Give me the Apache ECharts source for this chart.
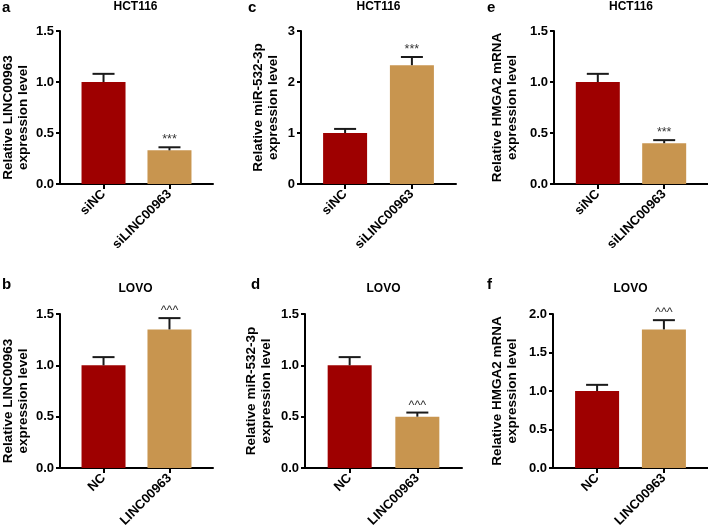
<!DOCTYPE html>
<html><head><meta charset="utf-8">
<script src="https://cdn.jsdelivr.net/npm/echarts@6/dist/echarts.min.js"></script>
<style>html,body{margin:0;padding:0;background:#fff}#c{width:708px;height:532px}</style>
</head><body><div id="c"></div>
<script>
// ---- data ----
const panelLetters = ['a', 'c', 'e', 'b', 'd', 'f'];
const panelTitles = ['HCT116', 'HCT116', 'HCT116', 'LOVO', 'LOVO', 'LOVO'];
const catsHCT116 = ['siNC', 'siLINC00963'];
const catsLOVO = ['NC', 'LINC00963'];
const yAxisNames = [
  'Relative LINC00963\nexpression level',
  'Relative miR-532-3p\nexpression level',
  'Relative HMGA2 mRNA\nexpression level',
  'Relative LINC00963\nexpression level',
  'Relative miR-532-3p\nexpression level',
  'Relative HMGA2 mRNA\nexpression level'
];
const yMaxes = [1.5, 3, 1.5, 1.5, 1.5, 2.0];
const yIntervals = [0.5, 1, 0.5, 0.5, 0.5, 0.5];
const means_a = [1.00, 0.33], errs_a = [0.08, 0.03];
const means_c = [1.00, 2.33], errs_c = [0.08, 0.16];
const means_e = [1.00, 0.40], errs_e = [0.08, 0.03];
const means_b = [1.00, 1.35], errs_b = [0.08, 0.11];
const means_d = [1.00, 0.50], errs_d = [0.08, 0.04];
const means_f = [1.00, 1.80], errs_f = [0.08, 0.12];
const sigMarks = ['***', '***', '***', '^^^', '^^^', '^^^'];

// ---- assembly ----
const allMeans = [means_a, means_c, means_e, means_b, means_d, means_f];
const allErrs = [errs_a, errs_c, errs_e, errs_b, errs_d, errs_f];
const allCats = [catsHCT116, catsHCT116, catsHCT116, catsLOVO, catsLOVO, catsLOVO];
const barColors = ['#9e0000', '#c8954f'];
const FONT = '"Liberation Sans", Arial, sans-serif';

const layout = [
  {left: 58,  top: 31,  width: 155, height: 153, gap: 29, shift: 20, titleY: 1,   letterX: 2,   letterY: 0},
  {left: 301, top: 31,  width: 155, height: 153, gap: 20, shift: 0,  titleY: 1,   letterX: 248, letterY: 0},
  {left: 554, top: 31,  width: 154, height: 153, gap: 34, shift: 0,  titleY: 1,   letterX: 487, letterY: 0},
  {left: 58,  top: 314, width: 155, height: 154, gap: 29, shift: 20, titleY: 283, letterX: 2,   letterY: 277},
  {left: 305, top: 314, width: 157, height: 154, gap: 31, shift: 0,  titleY: 283, letterX: 251, letterY: 277},
  {left: 553, top: 314, width: 155, height: 154, gap: 33, shift: 0,  titleY: 283, letterX: 487, letterY: 277}
];

const grids = [], xAxes = [], yAxes = [], series = [], graphics = [];
layout.forEach((L, i) => {
  grids.push({left: L.left, top: L.top, width: L.width, height: L.height, containLabel: false});
  const cats = allCats[i];
  xAxes.push({
    gridIndex: i, type: 'value', min: -0.66, max: 1.66,
    splitLine: {show: false},
    axisLine: {show: true, lineStyle: {color: '#000', width: 2}},
    axisTick: {show: true, customValues: [0, 1], length: 5, lineStyle: {color: '#000', width: 2}},
    axisLabel: {
      customValues: [0, 1], rotate: 45, margin: 8,
      formatter: v => cats[Math.round(v)],
      fontFamily: FONT, fontWeight: 'bold', fontSize: 13, color: '#000'
    }
  });
  const intv = yIntervals[i];
  yAxes.push({
    gridIndex: i, type: 'value', min: 0, max: yMaxes[i], interval: intv,
    splitLine: {show: false},
    axisLine: {show: true, onZero: false, lineStyle: {color: '#000', width: 2}},
    axisTick: {show: true, length: 4, lineStyle: {color: '#000', width: 2}},
    axisLabel: {
      margin: 6, formatter: v => intv < 1 ? v.toFixed(1) : String(v),
      fontFamily: FONT, fontWeight: 'bold', fontSize: 13, color: '#000'
    },
    name: yAxisNames[i], nameLocation: 'middle', nameRotate: 90, nameGap: L.gap,
    nameTextStyle: {
      fontFamily: FONT, fontWeight: 'bold', fontSize: 13.5, lineHeight: 15, color: '#000',
      padding: [0, L.shift, 0, 0]
    }
  });
  const means = allMeans[i], errs = allErrs[i];
  series.push({
    type: 'bar', xAxisIndex: i, yAxisIndex: i, barWidth: 44, silent: true,
    data: means.map((v, k) => ({value: [k, v], itemStyle: {color: barColors[k]}}))
  });
  series.push({
    type: 'custom', xAxisIndex: i, yAxisIndex: i, silent: true, z: 5,
    encode: {x: 0, y: 1},
    data: means.map((v, k) => [k, v, errs[k]]),
    renderItem: (params, api) => {
      const x = api.value(0), m = api.value(1), e = api.value(2);
      const b = api.coord([x, m]), t = api.coord([x, m + e]);
      const st = {stroke: '#1a1a1a', lineWidth: 2};
      const ch = [
        {type: 'line', shape: {x1: b[0], y1: b[1], x2: t[0], y2: t[1]}, style: st},
        {type: 'line', shape: {x1: t[0] - 11, y1: t[1], x2: t[0] + 11, y2: t[1]}, style: st}
      ];
      if (params.dataIndex === 1) {
        ch.push({type: 'text', style: {
          text: sigMarks[i], x: t[0], y: t[1] - 1, align: 'center', verticalAlign: 'bottom',
          fontFamily: FONT, fontSize: 12.5, fill: '#333'
        }});
      }
      return {type: 'group', children: ch};
    }
  });
  graphics.push({type: 'text', x: L.left + L.width / 2, y: L.titleY, style: {
    text: panelTitles[i], align: 'center', verticalAlign: 'top',
    fontFamily: FONT, fontWeight: 'bold', fontSize: 12, fill: '#000'
  }});
  graphics.push({type: 'text', x: L.letterX, y: L.letterY, style: {
    text: panelLetters[i], align: 'left', verticalAlign: 'top',
    fontFamily: FONT, fontWeight: 'bold', fontSize: 15, fill: '#000'
  }});
});

const chart = echarts.init(document.getElementById('c'), null, {renderer: 'canvas'});
chart.setOption({
  animation: false, backgroundColor: '#fff',
  grid: grids, xAxis: xAxes, yAxis: yAxes, series: series, graphic: graphics
});
</script></body></html>
